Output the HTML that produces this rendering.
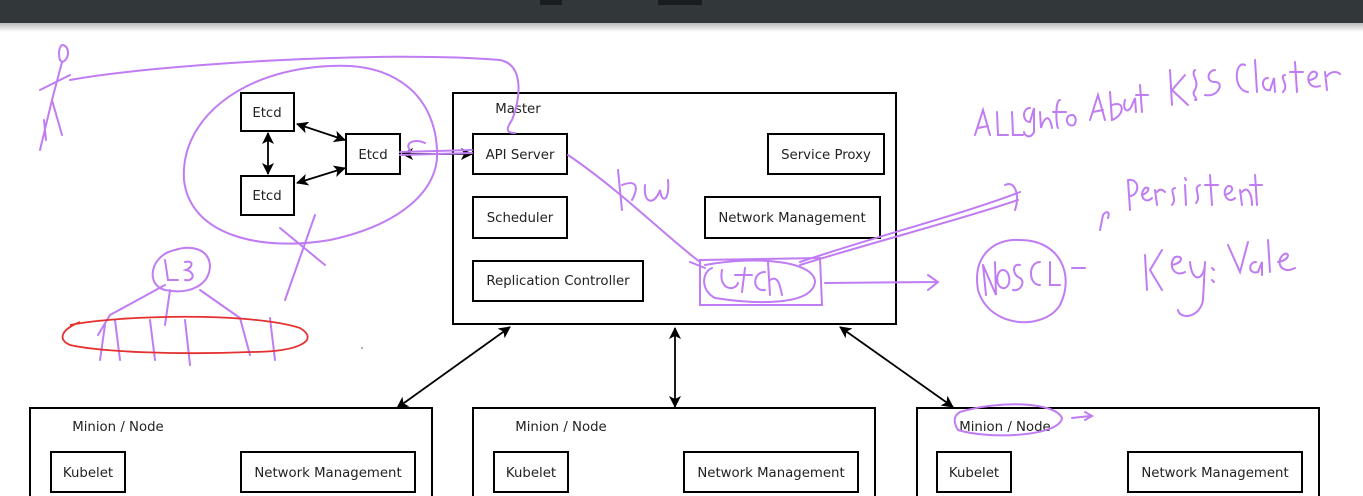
<!DOCTYPE html>
<html><head><style>
body{margin:0;width:1363px;height:496px;overflow:hidden;background:#fff;font-family:"DejaVu Sans","Liberation Sans",sans-serif}
</style></head><body>
<svg width="1363" height="496" xmlns="http://www.w3.org/2000/svg" style="position:absolute;left:0;top:0">
<defs>
<linearGradient id="sh" x1="0" y1="0" x2="0" y2="1"><stop offset="0" stop-color="#bbb"/><stop offset="1" stop-color="#fff"/></linearGradient>
<marker id="a" markerWidth="12" markerHeight="12" refX="11" refY="6" orient="auto-start-reverse" markerUnits="userSpaceOnUse"><path d="M0,0 L12,6 L0,12 L3,6 z" fill="#000"/></marker>
</defs>
<rect x="0" y="0" width="1363" height="23" fill="#32373a"/>
<rect x="0" y="23" width="1363" height="9" fill="url(#sh)"/>
<rect x="540" y="0" width="22" height="5" fill="#1a1d1f"/>
<rect x="658" y="0" width="44" height="5" fill="#1a1d1f"/>
<g fill="none" stroke="#000" stroke-width="2">
<rect x="453" y="93" width="443" height="231"/>
<rect x="473" y="134" width="94" height="40"/>
<rect x="473" y="197" width="94" height="41"/>
<rect x="473" y="261" width="170" height="40"/>
<rect x="768" y="134" width="116" height="40"/>
<rect x="705" y="197" width="175" height="41"/>
<rect x="241" y="93" width="53" height="38"/>
<rect x="241" y="176" width="53" height="39"/>
<rect x="346" y="134" width="54" height="40"/>
<rect x="30" y="408" width="402" height="100"/>
<rect x="473" y="408" width="402" height="100"/>
<rect x="917" y="408" width="402" height="100"/>
<rect x="51" y="452" width="74" height="40"/>
<rect x="241" y="452" width="174" height="40"/>
<rect x="494" y="452" width="74" height="40"/>
<rect x="684" y="452" width="174" height="40"/>
<rect x="937" y="452" width="74" height="40"/>
<rect x="1128" y="452" width="174" height="40"/>
</g>
<g stroke="#000" stroke-width="1.8" marker-start="url(#a)" marker-end="url(#a)">
<line x1="510" y1="327" x2="397" y2="408"/>
<line x1="675" y1="328" x2="675" y2="407"/>
<line x1="840" y1="327" x2="953" y2="407"/>
<line x1="297" y1="124" x2="345" y2="140"/>
<line x1="268" y1="133" x2="268" y2="174"/>
<line x1="297" y1="183" x2="345" y2="168"/>
<line x1="402" y1="154" x2="472" y2="154"/>
</g>
<g font-size="13.3" fill="#222" text-anchor="middle">
<text x="518" y="113">Master</text>
<text x="520" y="159">API Server</text>
<text x="520" y="222">Scheduler</text>
<text x="558" y="285">Replication Controller</text>
<text x="826" y="159">Service Proxy</text>
<text x="792" y="222">Network Management</text>
<text x="267" y="117">Etcd</text>
<text x="267" y="200">Etcd</text>
<text x="373" y="159">Etcd</text>
<text x="118" y="431">Minion / Node</text>
<text x="561" y="431">Minion / Node</text>
<text x="1005" y="431">Minion / Node</text>
<text x="88" y="477">Kubelet</text>
<text x="328" y="477">Network Management</text>
<text x="531" y="477">Kubelet</text>
<text x="771" y="477">Network Management</text>
<text x="974" y="477">Kubelet</text>
<text x="1215" y="477">Network Management</text>
</g>
<g fill="none" stroke="#c07cf2" stroke-width="2" stroke-linecap="round">
<path d="M400,155 L472,153 M400,152 L472,150 M410,150 C404,143 415,138 425,143"/>
<path d="M437,150 C440,190 400,225 330,240 C260,252 190,235 184,180 C180,120 240,70 330,66 C400,62 435,100 437,150"/>
<path d="M280,228 L325,265 M315,215 L285,300"/>
<path d="M62,45 C70,45 70,60 62,62 C58,60 58,48 62,45 M62,62 L52,100 L40,150 M52,100 L62,135 M40,90 L70,75 M44,120 L46,140"/>
<path d="M70,80 C150,65 380,50 500,60 C525,65 520,100 512,120 C505,130 507,133 515,133"/>
<path d="M568,155 C620,190 670,240 700,262 M690,262 L705,268 M618,170 L622,210 M622,185 C635,180 640,185 632,200 M645,185 C643,205 655,205 660,190 C662,205 670,200 668,180"/>
<path d="M700,260 L820,258 L822,305 L700,305 Z M705,265 C760,255 815,262 815,282 C812,305 760,305 715,298 C700,290 702,272 712,268"/>
<path d="M722,270 C718,290 735,292 738,283 M735,275 L752,275 M745,268 L742,292 M765,272 C752,272 752,292 765,290 M768,262 L770,295 M770,280 C778,275 780,285 782,295"/>
<path d="M800,262 C880,235 960,215 1020,192 M800,265 C880,240 960,220 1018,200 M1005,185 C1015,180 1020,195 1015,210 M825,283 L935,282 M928,275 L938,282 L928,290"/>
<path d="M1020,240 C1060,240 1075,275 1060,305 C1045,330 990,330 978,290 C972,255 995,238 1020,240 M983,265 L986,295 M983,265 L996,295 L995,262 M1003,270 C995,270 995,290 1005,288 C1012,285 1010,270 1003,270 M1020,265 C1012,263 1012,275 1020,278 C1026,282 1020,292 1013,290 M1040,262 C1028,262 1028,285 1040,285 M1050,262 L1050,285 L1060,285 M1072,268 L1085,268"/>
<path d="M1100,230 L1103,215 C1107,210 1110,212 1108,218 M1128,180 L1130,210 M1128,180 C1140,178 1140,195 1130,196 M1142,195 C1150,192 1150,186 1145,188 C1138,195 1145,205 1152,198 M1155,190 L1157,205 M1157,192 C1160,188 1163,190 1165,192 M1175,188 C1168,190 1178,198 1172,205 M1185,185 L1186,205 M1185,178 L1186,180 M1200,185 C1192,188 1202,196 1196,203 M1210,175 L1212,205 M1205,185 L1218,185 M1225,195 C1235,192 1233,185 1228,186 C1220,192 1228,205 1235,198 M1240,190 L1242,205 M1242,192 C1248,185 1252,195 1252,205 M1255,175 L1257,205 M1250,185 L1262,185"/>
<path d="M1145,255 L1147,290 M1162,250 L1150,270 L1162,290 M1172,265 C1185,262 1182,255 1175,257 C1167,265 1175,278 1185,272 M1190,262 C1192,285 1205,280 1205,262 M1205,262 L1203,300 C1200,318 1180,320 1178,310 M1212,268 L1214,270 M1212,280 L1214,282 M1228,245 L1240,272 L1248,242 M1256,262 C1248,262 1248,275 1258,272 L1262,262 L1262,275 M1268,240 L1270,272 M1278,262 C1290,260 1290,252 1284,254 C1274,262 1282,275 1295,268"/>
<path d="M975,135 L983,110 L990,135 M978,128 L988,126 M997,112 L998,135 L1008,135 M1012,112 L1013,135 L1023,135 M1030,108 C1022,108 1022,122 1030,122 L1034,108 L1034,132 C1030,140 1024,135 1024,132 M1040,112 L1041,128 C1045,115 1050,115 1052,128 M1060,100 C1055,100 1056,125 1058,128 M1053,112 L1066,112 M1072,115 C1064,115 1066,128 1074,125 C1078,120 1074,114 1072,115 M1090,120 L1098,95 L1105,120 M1093,112 L1103,110 M1110,92 L1112,120 C1125,115 1125,100 1112,105 M1125,100 C1122,110 1128,115 1132,105 L1135,98 L1136,112 M1140,85 L1142,112 M1136,95 L1148,95 M1170,70 L1172,105 M1185,75 L1172,90 L1188,105 M1195,70 C1190,75 1200,80 1195,90 C1190,95 1200,100 1195,100 M1215,70 C1208,70 1205,82 1215,82 C1225,82 1218,98 1205,95 M1245,65 C1235,60 1232,90 1248,92 M1255,60 L1257,92 M1268,78 C1260,78 1262,92 1270,90 L1274,78 L1275,92 M1285,75 C1278,76 1290,85 1283,92 M1295,62 L1297,92 M1290,72 L1303,72 M1310,80 C1320,78 1318,70 1312,72 C1304,78 1310,90 1320,86 M1325,72 L1327,90 M1327,76 C1332,70 1338,72 1340,74"/>
<path d="M175,250 C150,255 145,285 165,290 C190,295 210,285 210,265 C208,248 190,245 175,250 M165,260 L168,280 L178,280 M185,262 C195,260 192,268 186,270 C196,272 194,282 185,280 M165,285 L110,315 L98,335 M170,290 L165,325 M200,290 L240,318 M115,320 L120,360 M150,320 L155,360 M185,320 L190,365 M240,318 L250,355 M105,325 L100,360 M270,318 L275,360"/>
<path d="M960,412 C1000,400 1055,402 1062,418 C1060,436 990,440 958,430 C952,420 955,415 960,412 M1072,418 L1090,416 M1085,412 L1092,416 L1085,420"/>
</g>
<path d="M70,325 C120,315 250,312 300,328 C320,340 300,352 250,352 C180,355 100,352 70,345 C58,340 60,330 80,322" fill="none" stroke="#e53030" stroke-width="1.8"/>
<circle cx="362" cy="348" r="1" fill="#999"/>
</svg>
</body></html>
